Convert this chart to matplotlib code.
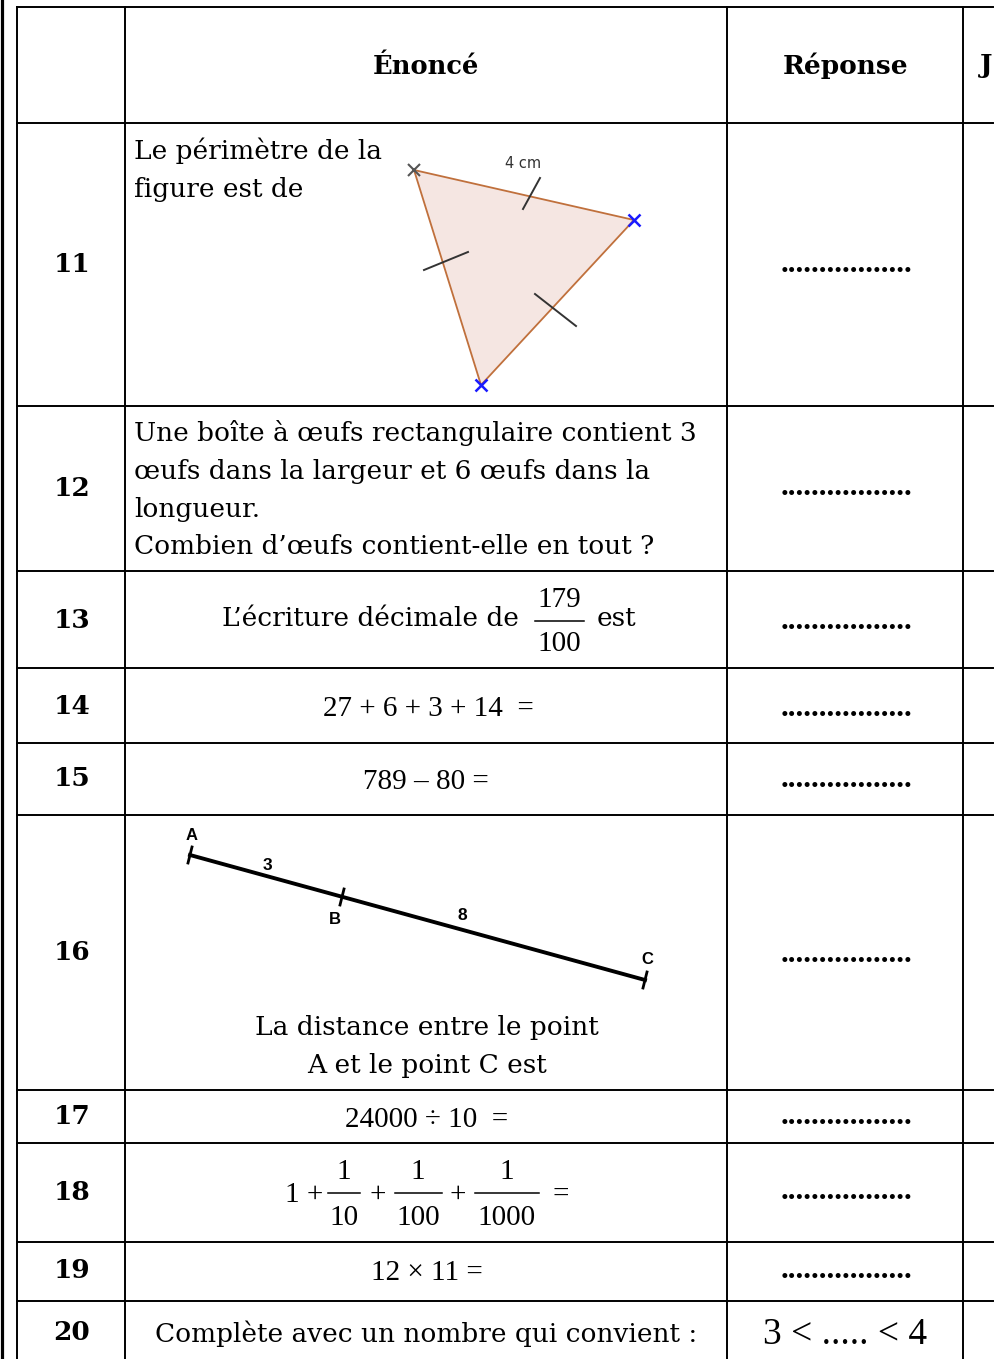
import matplotlib.pyplot as plt

# ==========================================
# TABLE CONTENT
# ==========================================

numbers = ["11", "12", "13", "14", "15", "16", "17", "18", "19", "20"]
headers = ["Énoncé", "Réponse", "J"]
row_edges = [7, 123, 406, 571, 668, 743, 815, 1090, 1143, 1242, 1301, 1359]
col_edges = [17, 125, 727, 963]
number_y = [265, 488, 620, 706, 779, 953, 1117, 1192, 1270, 1332]
dots_y = [272, 495, 629, 716, 787, 962, 1124, 1199, 1278]

q11_text = ["Le périmètre de la", "figure est de"]
q12_text = ["Une boîte à œufs rectangulaire contient 3",
            "œufs dans la largeur et 6 œufs dans la",
            "longueur.",
            "Combien d’œufs contient-elle en tout ?"]
q13_text = ["L’écriture décimale de", "179", "100", "est"]
q14_text = "27 + 6 + 3 + 14  ="
q15_text = "789 – 80 ="
q16_text = ["La distance entre le point", "A et le point C est"]
q17_text = "24000 ÷ 10  ="
q18_num = ["1", "1", "1"]
q18_den = ["10", "100", "1000"]
q19_text = "12 × 11 ="
q20_text = "Complète avec un nombre qui convient :"
q20_answer = "3 < ..... < 4"

# triangle (figure of question 11)
tri_x = [414, 634, 481]
tri_y = [170, 220, 385]
tri_label = "4 cm"

# segment (figure of question 16)
seg_names = ["A", "B", "C"]
seg_lengths = ["3", "8"]

SERIF = "DejaVu Serif"
MATH = "Liberation Serif"
TXT = 19

fig = plt.figure(figsize=(10.07, 13.59), dpi=100)
ax = fig.add_axes([0, 0, 1, 1])
ax.set_xlim(0, 1007)
ax.set_ylim(1359, 0)
ax.axis("off")

# ==========================================
# GRID
# ==========================================

ax.plot([1.5, 1.5], [0, 1359], color="black", lw=2.3)
for y in row_edges[:-1]:
    ax.plot([col_edges[0], 993], [y, y], color="black", lw=1.4)
for x in col_edges:
    ax.plot([x, x], [row_edges[0], 1359], color="black", lw=1.4)

# header
ax.text(426, 66, headers[0], ha="center", va="center", family=SERIF,
        fontsize=18.5, fontweight="bold")
ax.text(846, 66, headers[1], ha="center", va="center", family=SERIF,
        fontsize=19, fontweight="bold")
ax.text(980, 66, headers[2], ha="left", va="center", family=SERIF,
        fontsize=19, fontweight="bold")

# question numbers and answer dots
for i, n in enumerate(numbers):
    ax.text(72, number_y[i], n, ha="center", va="center", family=SERIF,
            fontsize=19, fontweight="bold")
for y in dots_y:
    ax.text(846, y, "." * 17, ha="center", va="baseline",
            family=MATH, fontsize=22, fontweight="bold")

# ==========================================
# QUESTIONS
# ==========================================

# 11
for k, line in enumerate(q11_text):
    ax.text(134, 151 + 38 * k, line, ha="left", va="center",
            family=SERIF, fontsize=TXT)
ax.fill(tri_x, tri_y, facecolor="#f5e6e2", edgecolor="#c0703c", lw=1.3)
ax.plot([523, 540], [209, 178], color="#333333", lw=1.4)
ax.plot([424, 468], [270, 252], color="#333333", lw=1.4)
ax.plot([535, 576], [294, 326], color="#333333", lw=1.4)
ax.plot(tri_x[0], tri_y[0], marker="x", color="#555555", ms=8, mew=1.5)
ax.plot(tri_x[1:], tri_y[1:], "x", color="#1a1aff", ms=8, mew=1.8,
        linestyle="none")
ax.text(523, 164, tri_label, ha="center", va="center", family="DejaVu Sans",
        fontsize=10.5, color="#333333")

# 12
for k, line in enumerate(q12_text):
    ax.text(134, 433 + 38 * k, line, ha="left", va="center",
            family=SERIF, fontsize=TXT)

# 13
ax.text(519, 619, q13_text[0], ha="right", va="center", family=SERIF,
        fontsize=TXT)
ax.text(559, 600, q13_text[1], ha="center", va="center", family=MATH,
        fontsize=21)
ax.text(559, 644, q13_text[2], ha="center", va="center", family=MATH,
        fontsize=21)
ax.plot([535, 584], [621, 621], color="black", lw=1.1)
ax.text(597, 619, q13_text[3], ha="left", va="center", family=SERIF,
        fontsize=TXT)

# 14, 15
ax.text(428, 709, q14_text, ha="center", va="center", family=MATH, fontsize=21)
ax.text(426, 782, q15_text, ha="center", va="center", family=MATH, fontsize=21)

# 16
ax.plot([190, 645], [855, 980], color="black", lw=2.8)
for (x0, y0) in [(190, 855), (342, 897), (645, 980)]:
    ax.plot([x0 - 2, x0 + 2], [y0 + 8, y0 - 8], color="black", lw=2)
ax.text(192, 836, seg_names[0], ha="center", va="center", family="Liberation Sans",
        fontsize=12, fontweight="bold")
ax.text(335, 920, seg_names[1], ha="center", va="center", family="Liberation Sans",
        fontsize=12, fontweight="bold")
ax.text(647, 959, seg_names[2], ha="center", va="center", family="Liberation Sans",
        fontsize=12, fontweight="bold")
ax.text(267, 865, seg_lengths[0], ha="center", va="center", family="Liberation Sans",
        fontsize=12.5, fontweight="bold")
ax.text(462, 916, seg_lengths[1], ha="center", va="center", family="Liberation Sans",
        fontsize=12.5, fontweight="bold")
for k, line in enumerate(q16_text):
    ax.text(427, 1028 + 38 * k, line, ha="center", va="center",
            family=SERIF, fontsize=TXT)

# 17
ax.text(427, 1120, q17_text, ha="center", va="center", family=MATH, fontsize=21)

# 18
ax.text(304, 1195, "1 +", ha="center", va="center", family=MATH, fontsize=21)
frac_x = [344, 418, 507]
frac_w = [32, 47, 64]
for k in range(3):
    ax.text(frac_x[k], 1172, q18_num[k], ha="center", va="center",
            family=MATH, fontsize=21)
    ax.text(frac_x[k], 1218, q18_den[k], ha="center", va="center",
            family=MATH, fontsize=21)
    ax.plot([frac_x[k] - frac_w[k] / 2, frac_x[k] + frac_w[k] / 2],
            [1193, 1193], color="black", lw=1.1)
ax.text(378, 1195, "+", ha="center", va="center", family=MATH, fontsize=21)
ax.text(458, 1195, "+", ha="center", va="center", family=MATH, fontsize=21)
ax.text(561, 1195, "=", ha="center", va="center", family=MATH, fontsize=21)

# 19
ax.text(427, 1273, q19_text, ha="center", va="center", family=MATH, fontsize=21)

# 20
ax.text(426, 1334, q20_text, ha="center", va="center", family=SERIF, fontsize=TXT)
ax.text(845, 1335, q20_answer, ha="center", va="center", family=MATH, fontsize=27)

fig.savefig("out.png", dpi=100)
